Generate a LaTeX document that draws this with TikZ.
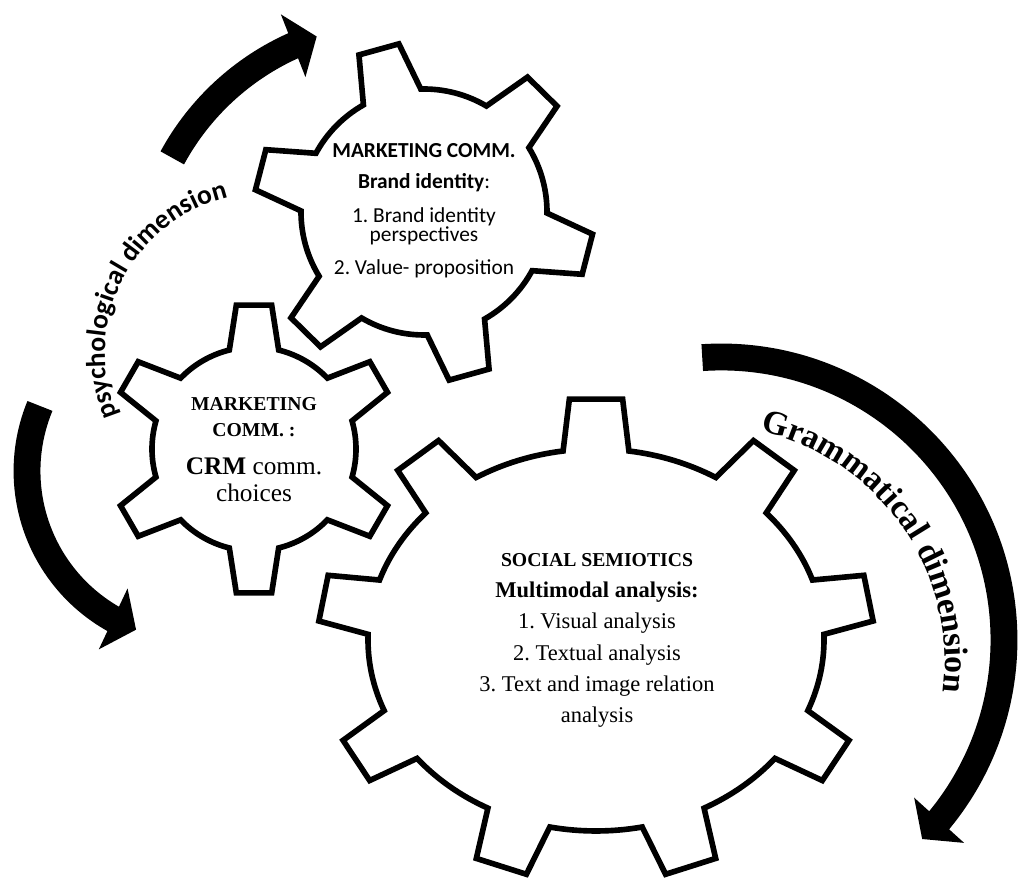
\documentclass[tikz,border=0pt]{standalone}
\usepackage{fontspec}
\setmainfont{Liberation Serif}
\newfontfamily\calibri{Carlito}
\usetikzlibrary{arrows.meta, bending, decorations.text}

%% gear outline: rim rx, rim ry, tip rx, tip ry, teeth, first tooth angle, base half angle, tip half angle
\newcommand{\gearoutline}[8]{%
  ({#6-#7}:#1 and #2)
  \foreach \k in {1,...,#5} {
    -- ({#6+(\k-1)*360/#5-#8}:#3 and #4)
    -- ({#6+(\k-1)*360/#5+#8}:#3 and #4)
    -- ({#6+(\k-1)*360/#5+#7}:#1 and #2)
    arc[start angle={#6+(\k-1)*360/#5+#7}, end angle={#6+\k*360/#5-#7}, x radius=#1, y radius=#2]
  } -- cycle}

\begin{document}
\frenchspacing
\begin{tikzpicture}[
  x=0.025cm, y=0.025cm,
  gearline/.style={draw=black, fill=white, line width=4pt, line join=miter},
  band/.style={draw=black, line width=19.1pt, -{Triangle[length=18pt, width=47pt]}},
  sanstxt/.style={font=\calibri\fontsize{15.2}{13.5}\selectfont, align=center, inner sep=0pt},
  seriftxt/.style={font=\fontsize{16}{22.3}\selectfont, align=center, inner sep=0pt}
]

%% canvas is 1021 x 881 units, y pointing up
\useasboundingbox (0,0) rectangle (1021,881);
\clip (0,0) rectangle (1021,881);

%% centres of the gears, the arrow arcs and the curved labels
\coordinate (top_c) at (424,669);
\coordinate (crm_c) at (254,432);
\coordinate (soc_c) at (596,241);
\coordinate (up_arr_c) at (399,600);
\coordinate (down_arr_c) at (197,410);
\coordinate (gram_arr_c) at (721,241);
\coordinate (psy_txt_c) at (266,527);
\coordinate (gram_txt_c) at (707,218);

%% ─── GEARS ──────────────────────────────────────────────────────────────────
\draw[gearline, shift={(top_c)}] \gearoutline{123}{123}{170}{170}{6}{45.5}{14}{7};
\draw[gearline, shift={(crm_c)}] \gearoutline{102}{102}{145}{145}{6}{30}{14}{7};
\draw[gearline, shift={(soc_c)}] \gearoutline{228}{191}{278}{242}{9}{90}{8.3}{5.5};

%% ─── GEAR TEXTS ─────────────────────────────────────────────────────────────
\node[sanstxt] (brand_txt) at (424,670)
  {\textbf{MARKETING COMM.}\\[8.5pt]
   \textbf{Brand identity}:\\[10.5pt]
   1. Brand identity\\
   perspectives\\[10.5pt]
   2. Value- proposition};

\node[seriftxt, font=\fontsize{14}{19.1}\selectfont] (crm_txt) at (254,431.5)
  {\textbf{MARKETING}\\
   \textbf{COMM. :}\\[7.8pt]
   {\fontsize{18}{19.1}\selectfont\textbf{CRM} comm.}\\
   {\fontsize{18}{19.1}\selectfont choices}};

\node[seriftxt] (soc_txt) at (597,240.5)
  {{\fontsize{14}{22.3}\selectfont\textbf{SOCIAL SEMIOTICS}}\\
   \textbf{Multimodal analysis:}\\
   1. Visual analysis\\
   2. Textual analysis\\
   3. Text and image relation\\
   analysis};

%% ─── CURVED ARROWS ──────────────────────────────────────────────────────────
\draw[band, shift={(up_arr_c)}] (151.5:258) arc[start angle=151.5, end angle=108.6, radius=258];
\draw[band, shift={(down_arr_c)}] (157.5:170) arc[start angle=157.5, end angle=249, radius=170];
\draw[band, shift={(gram_arr_c)}] (93.8:283) arc[start angle=93.8, end angle=-44.7, radius=283];

%% ─── CURVED LABELS ──────────────────────────────────────────────────────────
\path[shift={(psy_txt_c)}, decorate, decoration={text along path, text align=center,
    text={|\calibri\bfseries\fontsize{19.5}{20}\selectfont|psychological dimension}}]
  (213:161) arc[start angle=213, end angle=93, radius=161];
\path[shift={(gram_txt_c)}, decorate, decoration={text along path, text align=center,
    text={|\bfseries\fontsize{24}{24}\selectfont|Grammatical dimension}}]
  (105:238) arc[start angle=105, end angle=-35, radius=238];

\end{tikzpicture}
\end{document}
